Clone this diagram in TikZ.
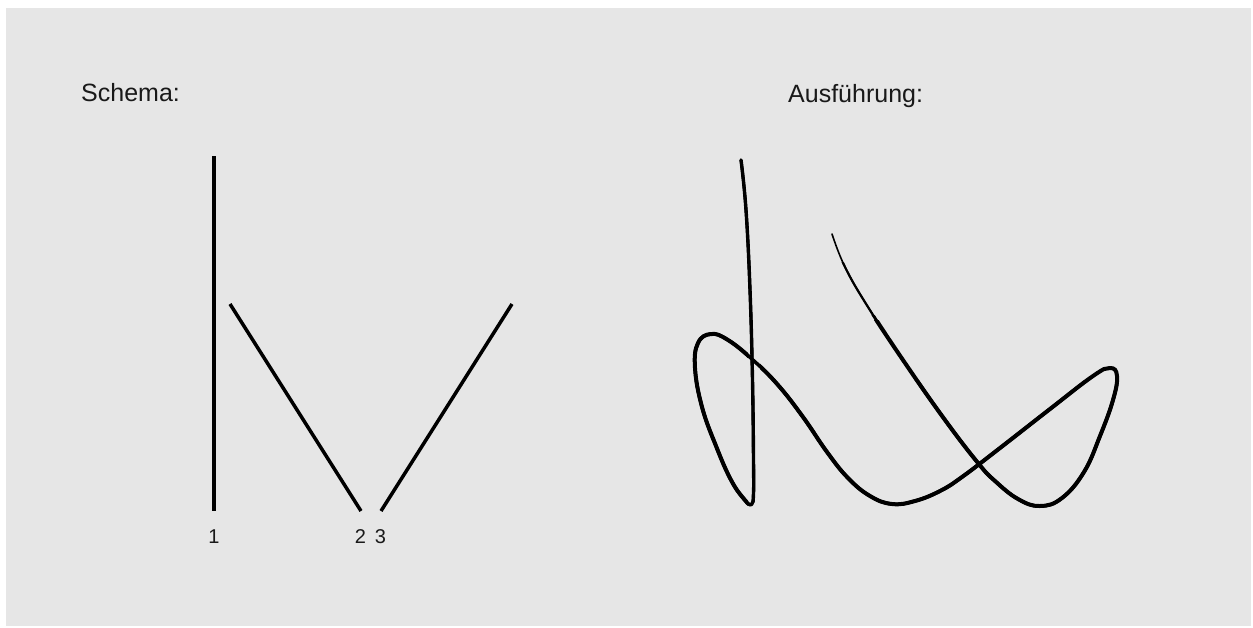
\documentclass[tikz,border=0pt]{standalone}
\usepackage{fontspec}
\setmainfont{Liberation Sans}
\definecolor{bg}{RGB}{230,230,230}
\definecolor{ink}{RGB}{25,25,25}
\begin{document}
\begin{tikzpicture}[x=1pt,y=-1pt,
  title/.style={anchor=base west, inner sep=0pt, font=\fontsize{25}{30}\selectfont, text=ink},
  numlabel/.style={anchor=base, inner sep=0pt, font=\fontsize{20}{24}\selectfont, text=ink},
  bar/.style={line width=3.5pt, line cap=butt},
  pen/.style={line width=#1, line cap=round, line join=round}]
\useasboundingbox (0,0) rectangle (1253,627);
\fill[bg] (6,8) rectangle (1251,626);

% titles
\node[title] (schema) at (81,101) {Schema:};
\node[title] (ausf) at (788,102) {Ausführung:};

% schema
\coordinate (l1t) at (214,156); \coordinate (l1b) at (214,511);
\coordinate (l2t) at (230,304); \coordinate (l2b) at (361,511);
\coordinate (l3b) at (381,511); \coordinate (l3t) at (512,304);
\draw[bar] (l1t) -- (l1b);
\draw[bar] (l2t) -- (l2b);
\draw[bar] (l3b) -- (l3t);
\node[numlabel] (n1) at (214,543) {1};
\node[numlabel] (n2) at (360.5,543) {2};
\node[numlabel] (n3) at (380.5,543) {3};

% execution curve
\def\curvepts{(741,160) (746,210) (750,290) (752.5,380) (753.5,460) (753.5,493) (751.5,504.5) (744,499) (731,480) (716,446) (702,407) (695,368) (698,343) (711,334) (728,340) (753,360) (778,385) (803,417) (827,452) (848,478) (870,496) (892,504) (915,501) (940,491) (962,477) (1000,448) (1050,409) (1093,376) (1110,368) (1117,376) (1113,400) (1100,436) (1084,472) (1062,498) (1040,506) (1018,499) (995,481) (978,463) (945,420) (905,363) (868,307) (845,267) (832,234)}
\draw[pen=1.6pt] plot[smooth, tension=0.7] coordinates {\curvepts};
\begin{scope}
  \clip (0,0) rectangle (800,627) (800,262) rectangle (1253,627);
  \draw[pen=2.2pt] plot[smooth, tension=0.7] coordinates {\curvepts};
\end{scope}
\begin{scope}
  \clip (0,0) rectangle (800,627) (800,315) rectangle (1253,627);
  \draw[pen=2.8pt] plot[smooth, tension=0.7] coordinates {\curvepts};
\end{scope}
\begin{scope}
  \clip (0,0) rectangle (800,627) (800,380) rectangle (1253,627);
  \draw[pen=3.4pt] plot[smooth, tension=0.7] coordinates {\curvepts};
\end{scope}
\begin{scope}
  \clip (0,320) rectangle (748,627) (760,320) rectangle (1253,627);
  \draw[pen=4pt] plot[smooth, tension=0.7] coordinates {\curvepts};
\end{scope}
\end{tikzpicture}
\end{document}
